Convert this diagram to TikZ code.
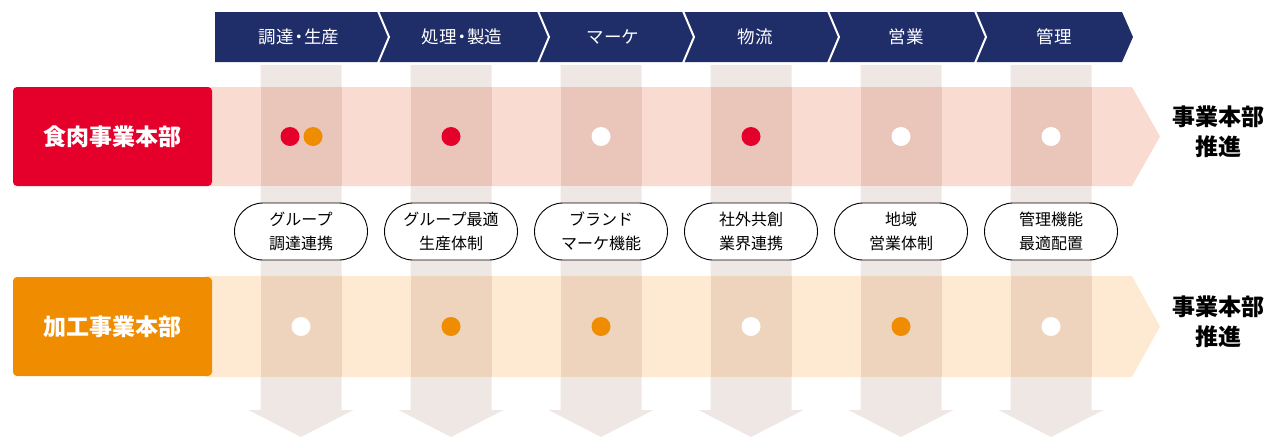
\documentclass[tikz,border=0pt]{standalone}
\usepackage{fontspec}
\setmainfont{Noto Sans CJK JP}
\usetikzlibrary{shapes.misc}
\definecolor{navy}{HTML}{1F2D69}
\definecolor{meatred}{HTML}{E4002B}
\definecolor{procorange}{HTML}{F08C00}
\definecolor{redband}{HTML}{FADBD2}
\definecolor{orangeband}{HTML}{FEEAD2}
\definecolor{colgrey}{HTML}{EFE7E4}
\definecolor{redover}{HTML}{EAC5B9}
\definecolor{orangeover}{HTML}{EED4BC}
\newcommand{\ndot}{\kern-0.2em・\kern-0.2em}
\tikzset{
  hdrtext/.style={text=white, font=\fontsize{17.5}{20}\selectfont},
  divbox/.style={rounded corners=4pt, minimum width=199pt, minimum height=99pt, inner sep=0pt, text=white, font=\fontsize{23}{26}\selectfont\bfseries},
  pill/.style={draw=black, line width=0.9pt, fill=white, rounded rectangle, minimum width=133pt, minimum height=57pt, inner sep=0pt, align=center, font=\fontsize{16}{24}\selectfont},
  dot/.style={circle, minimum size=19pt, inner sep=0pt},
  resulttext/.style={align=center, font=\fontsize{23}{30}\selectfont\bfseries},
  sep/.style={white, line width=2pt}
}
\begin{document}
\begin{tikzpicture}[x=1pt,y=-1pt]
\useasboundingbox (0,0) rectangle (1287,437);
% grey downward columns
\foreach \c in {301,451,601,751,901,1051}{
  \fill[colgrey] (\c-40.5,65) -- (\c+40.5,65) -- (\c+40.5,410) -- (\c+52.5,410) -- (\c,437) -- (\c-52.5,410) -- (\c-40.5,410) -- cycle;
}
% bands
\fill[redband] (205,87) -- (1132,87) -- (1160,136.5) -- (1132,186) -- (205,186) -- cycle;
\fill[orangeband] (205,276) -- (1132,276) -- (1160,326.5) -- (1132,377) -- (205,377) -- cycle;
\foreach \c in {301,451,601,751,901,1051}{
  \fill[redover] (\c-40.5,87) rectangle (\c+40.5,186);
  \fill[orangeover] (\c-40.5,276) rectangle (\c+40.5,377);
}
% division boxes
\node[divbox, fill=meatred] (meat) at (112.5,136.5) {食肉事業本部};
\node[divbox, fill=procorange] (proc) at (112.5,326.5) {加工事業本部};
% dots row 1
\node[dot, fill=meatred] (d11) at (290,136.5) {};
\node[dot, fill=procorange] (d12) at (313,136.5) {};
\node[dot, fill=meatred] (d2) at (451,136.5) {};
\node[dot, fill=white] (d3) at (601,136.5) {};
\node[dot, fill=meatred] (d4) at (751,136.5) {};
\node[dot, fill=white] (d5) at (901,136.5) {};
\node[dot, fill=white] (d6) at (1051,136.5) {};
% dots row 2
\node[dot, fill=white] (e1) at (301,326.5) {};
\node[dot, fill=procorange] (e2) at (451,326.5) {};
\node[dot, fill=procorange] (e3) at (601,326.5) {};
\node[dot, fill=white] (e4) at (751,326.5) {};
\node[dot, fill=procorange] (e5) at (901,326.5) {};
\node[dot, fill=white] (e6) at (1051,326.5) {};
% pills
\node[pill] (p1) at (301,231.5) {グループ\\調達連携};
\node[pill] (p2) at (451,231.5) {グループ最適\\生産体制};
\node[pill] (p3) at (601,231.5) {ブランド\\マーケ機能};
\node[pill] (p4) at (751,231.5) {社外共創\\業界連携};
\node[pill] (p5) at (901,231.5) {地域\\営業体制};
\node[pill] (p6) at (1051,231.5) {管理機能\\最適配置};
% result text
\node[resulttext] (r1) at (1218,132) {事業本部\\推進};
\node[resulttext] (r2) at (1218,322) {事業本部\\推進};
% header
\fill[navy] (215,12) -- (1122,12) -- (1133,37) -- (1122,62) -- (215,62) -- cycle;
\foreach \s in {378,538,683,828,975}{
  \draw[sep] (\s,11) -- (\s+11,37) -- (\s,63);
}
\node[hdrtext] (h1) at (299,37) {調達\ndot 生産};
\node[hdrtext] (h2) at (462,37) {処理\ndot 製造};
\node[hdrtext] (h3) at (613,37) {マーケ};
\node[hdrtext] (h4) at (755,37) {物流};
\node[hdrtext] (h5) at (906,37) {営業};
\node[hdrtext] (h6) at (1054,37) {管理};
\end{tikzpicture}
\end{document}
